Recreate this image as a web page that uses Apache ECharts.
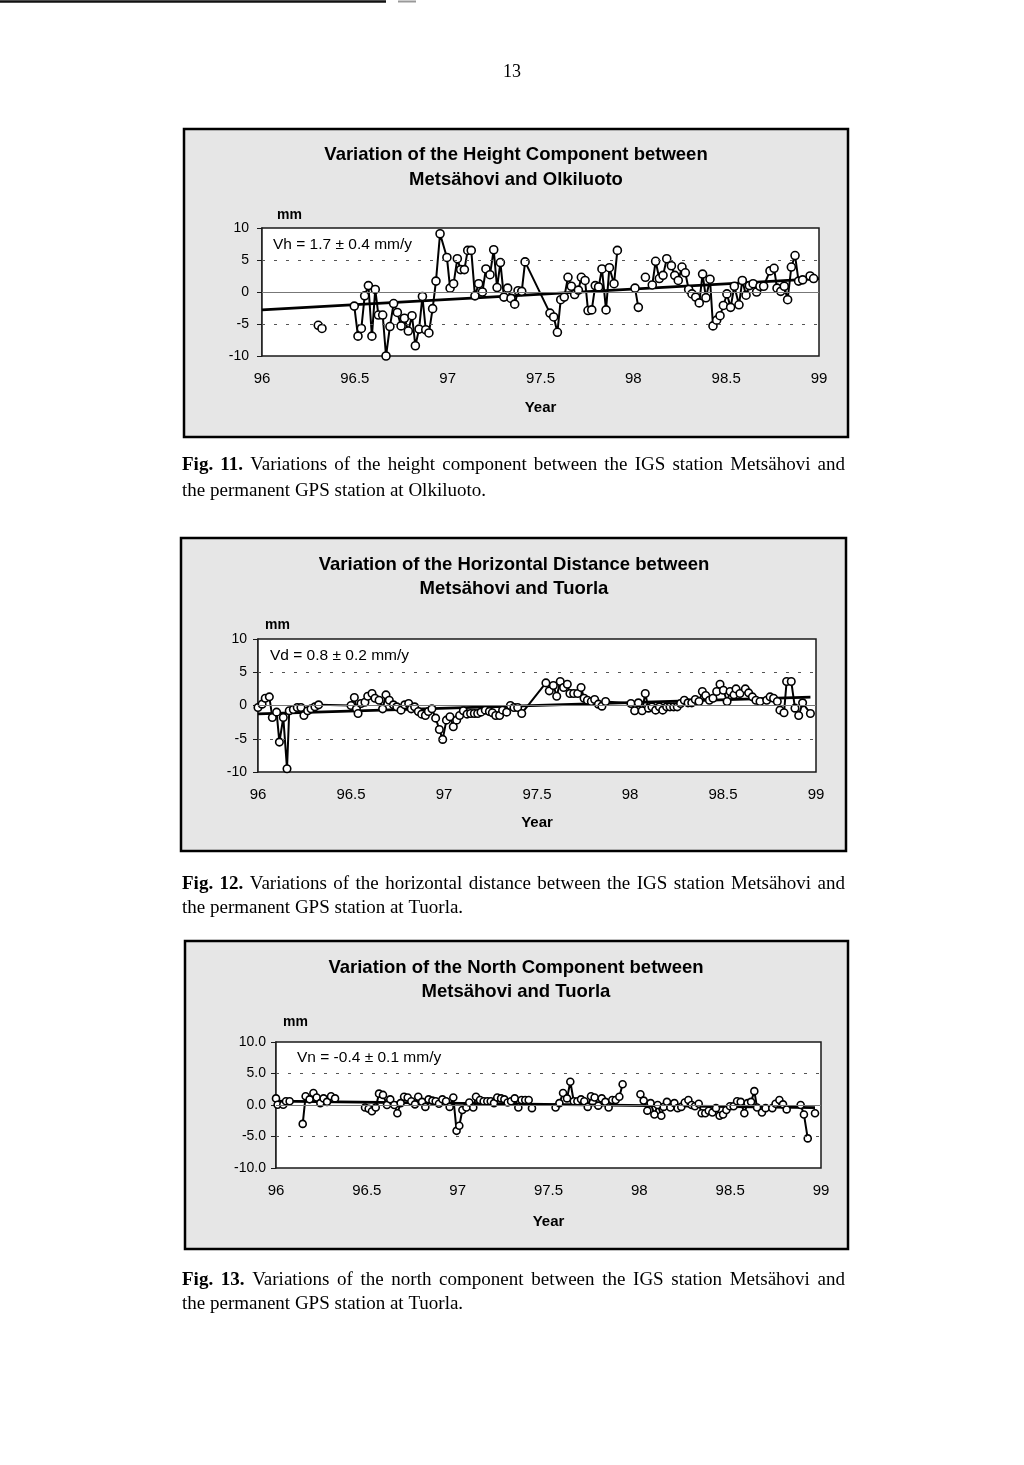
<!DOCTYPE html>
<html>
<head>
<meta charset="utf-8">
<script src="https://cdn.jsdelivr.net/npm/echarts@6/dist/echarts.min.js"></script>
<style>
html,body{margin:0;padding:0;background:#fff;}
#page{width:1024px;height:1465px;}
</style>
</head>
<body>
<div id="page"></div>
<script>
// ---------- data ----------
const xTickLabels = ['96','96.5','97','97.5','98','98.5','99'];
const yTickLabelsInt = ['-10','-5','0','5','10'];
const yTickLabelsDec = ['-10.0','-5.0','0.0','5.0','10.0'];
const refLevels = [-5, 5];

// Fig. 11 height component (null = gap in the record)
const heightYears = [96.303,96.323,null,
96.497,96.517,96.535,96.553,96.573,96.592,96.610,96.627,96.650,96.668,96.689,96.709,96.729,96.749,96.767,96.788,96.808,96.826,96.846,96.864,96.882,96.899,96.919,96.937,96.959,96.996,
97.013,97.032,97.052,97.070,97.090,97.108,97.127,97.147,97.167,97.187,97.206,97.228,97.248,97.266,97.284,97.303,97.323,97.341,97.361,97.379,97.399,97.417,
97.551,97.571,97.591,97.609,97.628,97.648,97.666,97.684,97.704,97.720,97.740,97.756,97.776,97.795,97.813,97.831,97.853,97.871,97.896,97.914,null,
98.009,98.027,null,98.065,null,
98.102,98.120,98.140,98.160,98.180,98.205,98.223,98.242,98.262,98.280,98.298,98.316,98.336,98.355,98.373,98.391,98.413,98.429,98.449,98.467,98.485,98.504,98.524,98.544,98.569,98.587,98.607,98.625,98.645,98.664,98.682,98.702,98.736,98.758,98.774,98.794,98.813,98.831,98.851,98.871,98.890,98.912,98.952,98.971];
const heightValues = [-5.2,-5.7,null,
-2.2,-6.9,-5.7,-0.6,1.0,-6.9,0.4,-3.6,-3.6,-10.0,-5.4,-1.8,-3.2,-5.3,-4.1,-6.1,-3.7,-8.4,-5.8,-0.7,-5.9,-6.4,-2.6,1.7,9.1,5.4,
0.6,1.3,5.2,3.5,3.5,6.5,6.5,-0.6,1.3,0.0,3.6,2.7,6.6,0.7,4.6,-0.8,0.6,-1.0,-1.9,0.2,0.1,4.7,
-3.3,-3.9,-6.3,-1.2,-0.8,2.3,0.9,-0.4,0.3,2.3,1.8,-2.9,-2.8,1.0,0.8,3.6,-2.8,3.8,1.3,6.5,null,
0.6,-2.4,null,2.3,null,
1.1,4.8,2.1,2.6,5.2,4.1,2.6,1.8,3.9,3.0,0.4,-0.3,-0.8,-1.7,2.8,-0.9,2.0,-5.3,-4.4,-3.7,-2.1,-0.3,-2.4,0.9,-2.0,1.8,-0.5,1.0,1.3,0.0,0.9,0.9,3.3,3.7,0.6,0.1,0.9,-1.2,3.9,5.7,1.7,1.9,2.5,2.1];
const heightTrendYears = [96.0, 99.0];
const heightTrendValues = [-2.8, 2.1];

// Fig. 12 horizontal distance
const distYears = [96.000,96.022,96.039,96.061,96.077,96.100,96.115,96.136,96.156,96.168,96.190,96.211,96.231,96.247,96.267,96.285,96.306,96.326,
96.500,96.518,96.529,96.538,96.554,96.575,96.590,96.613,96.629,96.651,96.670,96.688,96.706,96.728,96.746,96.769,96.789,96.810,96.824,96.842,96.862,96.880,96.900,96.916,96.935,96.955,96.975,96.993,
97.013,97.032,97.050,97.068,97.084,97.104,97.124,97.143,97.163,97.181,97.199,97.222,97.244,97.260,97.278,97.299,97.315,97.337,97.357,97.376,97.396,97.418,
97.548,97.566,97.588,97.606,97.625,97.643,97.663,97.677,97.697,97.719,97.737,97.753,97.771,97.792,97.810,97.830,97.849,97.869,
98.005,98.025,98.045,98.065,98.082,98.099,98.118,98.138,98.158,98.176,98.197,98.215,98.235,98.254,98.272,98.292,98.312,98.332,98.351,98.371,98.389,98.407,98.427,98.446,98.466,98.484,98.502,98.522,98.538,98.559,98.570,98.591,98.620,98.638,98.658,98.677,98.699,98.735,98.753,98.772,98.792,98.806,98.828,98.842,98.867,98.887,98.907,98.928,98.970];
const distValues = [-0.3,0.2,1.1,1.3,-1.8,-1.0,-5.5,-1.8,-9.5,-0.8,-0.6,-0.3,-0.3,-1.5,-0.8,-0.5,-0.2,0.1,
0.0,1.2,-0.5,-1.2,0.3,0.5,1.4,1.8,1.1,0.8,-0.5,1.6,0.8,0.1,-0.2,-0.7,0.1,0.3,-0.5,-0.2,-0.9,-1.3,-1.5,-0.9,-0.5,-1.9,-3.6,-5.1,
-2.2,-1.7,-3.2,-2.2,-1.5,-0.8,-1.3,-1.2,-1.2,-1.2,-1.0,-0.7,-0.9,-1.1,-1.5,-1.5,-0.7,-1.0,0.0,-0.3,-0.3,-1.2,
3.4,2.2,3.0,1.4,3.6,2.7,3.2,1.8,1.8,1.8,2.7,1.1,0.8,0.6,0.9,0.2,-0.1,0.6,
0.3,-0.8,0.4,-0.8,1.8,-0.4,-0.2,-0.7,-0.2,-0.7,-0.2,-0.2,-0.2,-0.2,0.3,0.8,0.4,0.4,0.9,0.6,2.1,1.5,0.8,1.1,2.1,3.2,2.3,0.6,2.1,1.6,2.5,1.8,2.5,1.9,1.3,0.8,0.6,0.8,1.3,1.1,0.6,-0.7,-1.1,3.6,3.6,-0.4,-1.5,0.4,-1.2];
const distTrendYears = [96.0, 98.97];
const distTrendValues = [-1.25, 1.25];

// Fig. 13 north component
const northYears = [96.000,96.009,96.040,96.055,96.075,null,
96.147,96.163,96.185,96.206,96.224,96.244,96.262,96.281,96.303,96.325,null,
96.490,96.510,96.528,96.549,96.567,96.589,96.611,96.629,96.651,96.668,96.686,96.705,96.725,96.745,96.765,96.783,96.804,96.822,96.840,96.861,96.879,96.897,96.916,96.936,96.956,96.976,96.994,
97.009,97.026,97.048,97.064,97.086,97.101,97.123,97.143,97.163,97.182,97.200,97.218,97.239,97.257,97.275,97.294,97.314,97.334,97.352,97.372,97.391,97.409,null,
97.539,97.560,97.580,97.602,97.620,97.639,97.659,97.679,97.697,97.716,97.734,97.754,97.774,97.793,97.813,97.831,97.851,97.870,97.890,97.908,null,
98.006,98.024,98.044,98.062,98.083,98.101,98.121,98.134,98.152,98.171,98.193,98.211,98.231,98.250,98.270,98.288,98.306,98.327,98.343,98.363,98.382,98.402,98.422,98.442,98.461,98.479,98.499,98.519,98.538,98.558,98.578,98.596,98.615,98.633,98.648,98.675,98.695,98.732,98.750,98.771,98.791,98.811,null,
98.888,98.906,98.927,null,98.967];
const northValues = [1.05,0.05,0.05,0.6,0.6,null,
-3.0,1.4,0.9,1.9,1.2,0.3,1.05,0.5,1.4,1.05,null,
-0.4,-0.6,-1.0,-0.4,1.8,1.6,0.0,0.9,0.0,-1.3,0.3,1.3,1.2,0.6,0.1,1.3,0.5,-0.3,0.9,0.7,0.6,0.2,0.9,0.6,-0.3,1.2,-4.1,
-3.3,-0.8,-0.4,0.4,-0.4,1.3,0.8,0.6,0.6,0.6,0.3,1.2,1.05,0.9,0.4,0.6,1.05,-0.4,0.8,0.8,0.8,-0.5,null,
-0.4,0.3,1.9,1.05,3.7,0.6,0.6,0.9,0.6,-0.3,1.4,1.2,-0.1,1.05,0.5,-0.4,0.8,0.8,1.3,3.3,null,
1.7,0.7,-0.9,0.3,-1.5,0.0,-1.7,-0.3,0.5,-0.4,0.3,-0.5,-0.3,0.4,0.8,0.0,-0.2,0.2,-1.3,-1.3,-0.9,-1.2,-0.5,-1.7,-1.5,-0.8,-0.2,-0.2,0.6,0.5,-1.3,0.3,0.5,2.2,-0.4,-1.2,-0.5,-0.5,0.2,0.8,0.1,-0.7,null,
0.0,-1.5,-5.3,null,-1.3];
const northTrendYears = [96.0, 98.967];
const northTrendValues = [0.63, -0.42];

// ---------- styling / layout ----------
const SANS = "'Liberation Sans', Arial, Helvetica, sans-serif";
const SERIF = "'Liberation Serif', 'Times New Roman', serif";

const panels = [
  {grid:{left:262, top:228, width:557, height:128}, box:[184,129,664,308],
   title:['Variation of the Height Component between','Metsähovi and Olkiluoto'], titleX:516, titleY:[155,180],
   mm:[277,215], note:'Vh = 1.7 ± 0.4 mm/y', noteXY:[273,245],
   yLabels: yTickLabelsInt, labelMarginY:13, nameGap:44,
   years:heightYears, values:heightValues, tY:heightTrendYears, tV:heightTrendValues, sym:8,
   caption:{bold:'Fig. 11.', rest:'Variations of the height component between the IGS station Metsähovi and', line2:'the permanent GPS station at Olkiluoto.', y:[465,491]}},
  {grid:{left:258, top:639, width:558, height:133}, box:[181,538,665,313],
   title:['Variation of the Horizontal Distance between','Metsähovi and Tuorla'], titleX:514, titleY:[565,589],
   mm:[265,625], note:'Vd = 0.8 ± 0.2 mm/y', noteXY:[270,656],
   yLabels: yTickLabelsInt, labelMarginY:11, nameGap:43,
   years:distYears, values:distValues, tY:distTrendYears, tV:distTrendValues, sym:7.5,
   caption:{bold:'Fig. 12.', rest:'Variations of the horizontal distance between the IGS station Metsähovi and', line2:'the permanent GPS station at Tuorla.', y:[884,908]}},
  {grid:{left:276, top:1042, width:545, height:126}, box:[185,941,663,308],
   title:['Variation of the North Component between','Metsähovi and Tuorla'], titleX:516, titleY:[968,992],
   mm:[283,1022], note:'Vn = -0.4 ± 0.1 mm/y', noteXY:[297,1058],
   yLabels: yTickLabelsDec, labelMarginY:10, nameGap:46,
   years:northYears, values:northValues, tY:northTrendYears, tV:northTrendValues, sym:7,
   caption:{bold:'Fig. 13.', rest:'Variations of the north component between the IGS station Metsähovi and', line2:'the permanent GPS station at Tuorla.', y:[1280,1304]}}
];

const chart = echarts.init(document.getElementById('page'), null, {renderer:'canvas', width:1024, height:1465});

const grids = [], xAxes = [], yAxes = [], series = [], graphics = [];

// measuring helper for justified captions
const mctx = document.createElement('canvas').getContext('2d');
function measure(text, font){ mctx.font = font; return mctx.measureText(text).width; }

panels.forEach((p, i) => {
  grids.push(Object.assign({show:true, backgroundColor:'#ffffff', borderColor:'#1a1a1a', borderWidth:1.5, z:2}, p.grid));
  xAxes.push({
    type:'value', gridIndex:i, min:96, max:99, interval:0.5,
    axisLine:{show:false}, axisTick:{show:false}, splitLine:{show:false},
    axisLabel:{margin:15, color:'#000', fontFamily:SANS, fontSize:15,
      formatter:v => xTickLabels[Math.round((v - 96) / 0.5)]},
    name:'Year', nameLocation:'middle', nameGap:p.nameGap,
    nameTextStyle:{fontFamily:SANS, fontWeight:'bold', fontSize:15, color:'#000'}
  });
  yAxes.push({
    type:'value', gridIndex:i, min:-10, max:10, interval:5,
    axisLine:{show:true, lineStyle:{color:'#1a1a1a', width:1.5}},
    axisTick:{show:true, inside:false, length:5, lineStyle:{color:'#1a1a1a', width:1}},
    splitLine:{show:false},
    axisLabel:{margin:p.labelMarginY, color:'#000', fontFamily:SANS, fontSize:14,
      formatter:v => p.yLabels[Math.round((v + 10) / 5)]}
  });
  // trend line (with reference lines)
  series.push({
    type:'line', xAxisIndex:i, yAxisIndex:i, silent:true, animation:false,
    symbol:'none', lineStyle:{color:'#000', width:2.8}, z:3,
    data:p.tY.map((y, k) => [y, p.tV[k]]),
    markLine:{silent:true, symbol:'none', label:{show:false}, animation:false,
      data:[
        ...refLevels.map(v => ({yAxis:v, lineStyle:{type:[3,9], color:'#555', width:1.2}})),
        {yAxis:0, lineStyle:{type:'solid', color:'#777', width:1.2}}
      ]}
  });
  // observations
  series.push({
    type:'line', xAxisIndex:i, yAxisIndex:i, silent:true, animation:false,
    connectNulls:false, showAllSymbol:true,
    symbol:'circle', symbolSize:p.sym,
    itemStyle:{color:'#ffffff', borderColor:'#000', borderWidth:1.6},
    lineStyle:{color:'#000', width:2}, z:4,
    data:p.years.map((y, k) => (p.values[k] === null || y === null) ? ['-','-'] : [y, p.values[k]])
  });

  // outer framed box
  graphics.push({type:'rect', z:-10, shape:{x:p.box[0], y:p.box[1], width:p.box[2], height:p.box[3]},
    style:{fill:'#e6e6e6', stroke:'#000', lineWidth:2.5}});
  // titles
  p.title.forEach((t, k) => graphics.push({type:'text', z:10, x:p.titleX, y:p.titleY[k],
    style:{text:t, font:"bold 18.5px " + SANS, fill:'#000', align:'center', verticalAlign:'middle'}}));
  graphics.push({type:'text', z:10, x:p.mm[0], y:p.mm[1],
    style:{text:'mm', font:"bold 14px " + SANS, fill:'#000', align:'left', verticalAlign:'middle'}});
  graphics.push({type:'text', z:10, x:p.noteXY[0], y:p.noteXY[1],
    style:{text:p.note, font:"15.5px " + SANS, fill:'#000', align:'left', verticalAlign:'middle'}});

  // caption, first line justified
  const c = p.caption, X0 = 182, X1 = 845;
  const boldFont = "bold 19px " + SERIF, regFont = "19px " + SERIF;
  const words = c.bold.split(' ').map(w => ({w, f:boldFont})).concat(c.rest.split(' ').map(w => ({w, f:regFont})));
  const widths = words.map(o => measure(o.w, o.f));
  const total = widths.reduce((a, b) => a + b, 0);
  const gap = (X1 - X0 - total) / (words.length - 1);
  let cx = X0;
  words.forEach((o, k) => {
    graphics.push({type:'text', z:10, x:cx, y:c.y[0],
      style:{text:o.w, font:o.f, fill:'#000', align:'left', verticalAlign:'middle'}});
    cx += widths[k] + gap;
  });
  graphics.push({type:'text', z:10, x:X0, y:c.y[1],
    style:{text:c.line2, font:regFont, fill:'#000', align:'left', verticalAlign:'middle'}});
});

// page number and scan edge
graphics.push({type:'text', z:10, x:512, y:72, style:{text:'13', font:"18px " + SERIF, fill:'#000', align:'center', verticalAlign:'middle'}});
graphics.push({type:'line', z:10, shape:{x1:0, y1:1.5, x2:386, y2:1.5}, style:{stroke:'#111', lineWidth:2.5}});
graphics.push({type:'line', z:10, shape:{x1:398, y1:1.5, x2:416, y2:1.5}, style:{stroke:'#999', lineWidth:2}});

chart.setOption({
  animation:false,
  backgroundColor:'#ffffff',
  grid:grids, xAxis:xAxes, yAxis:yAxes, series:series,
  graphic:{elements:graphics}
});
</script>
</body>
</html>
